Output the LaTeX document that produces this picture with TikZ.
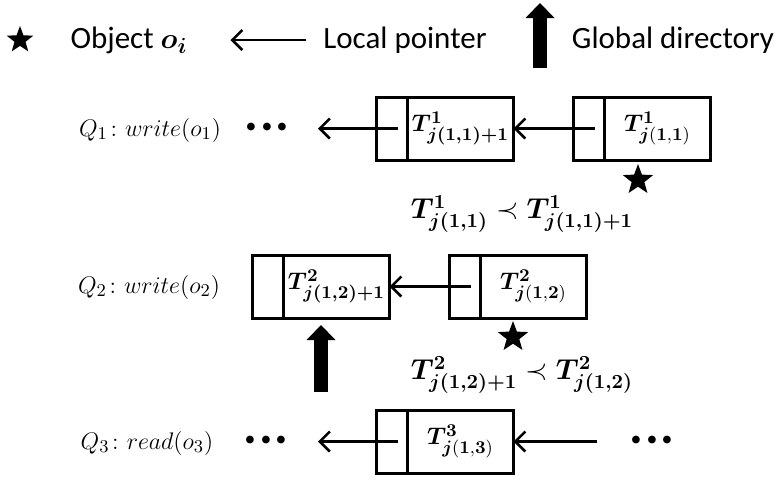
\documentclass[tikz,border=0pt]{standalone}
\usepackage{amsmath,amssymb,bm}
\usepackage{fontspec}
\setmainfont{Carlito}
\usepackage{tikz}
\usetikzlibrary{arrows.meta,positioning,shapes.geometric}

\tikzset{
  tcell/.style={draw, line width=1.5pt, minimum width=53pt, minimum height=31.5pt, inner sep=0pt, outer sep=0pt},
  pcell/.style={draw, line width=1.5pt, minimum width=15.5pt, minimum height=31.5pt, inner sep=0pt, outer sep=0pt},
  lptr/.style={-{Straight Barb[length=5pt,width=10pt]}, line width=1.3pt},
  gdir/.style={-{Triangle[length=7.5pt,width=14.5pt,line width=0pt]}, line width=7pt},
  obj/.style={star, star points=5, star point ratio=2.4, fill=black, inner sep=0pt, minimum size=16pt},
  legend/.style={font=\fontsize{15.5}{18}\selectfont},
  qlabel/.style={font=\fontsize{12.5}{15}\selectfont},
  ineq/.style={font=\fontsize{14.5}{17}\selectfont, inner sep=0pt},
  dotsep/.style={font=\fontsize{27}{27}\selectfont, inner sep=0pt},
}
\newcommand{\tnext}[2]{\bm{T^{#1}_{j(1,#2)+1}}}
\newcommand{\tcur}[2]{\bm{T}^{\bm{#1}}_{\bm{j}(\bm{1},\bm{#2})}}
\newcommand{\bigdots}{$\bm{{\cdot}{\cdot}{\cdot}}$}

\begin{document}
\begin{tikzpicture}[x=0.5pt, y=-0.5pt, every node/.style={font=\fontsize{13}{15}\selectfont}]
\useasboundingbox (0,0) rectangle (776,479);
% ---- legend
\node[obj, minimum size=14pt] (s0) at (20,40) {};
\node[legend] (ob) at (129,40) {Object $\bm{o_i}$};
\node[legend] (lp) at (405,40) {Local pointer};
\draw[lptr, shorten <=5pt, shorten >=18pt] (lp.west) -- (ob.east);
\coordinate (gbase) at (540,68);
\coordinate (gtip) at (540,3);
\draw[gdir] (gbase) -- (gtip);
\node[legend] (gd) at (673,40) {Global directory};
% ---- Q1
\node[qlabel] (q1) at (150,130) {$Q_1\colon write(o_1)$};
\node[dotsep] (d1) at (267,128) {\bigdots};
\node[tcell] (t11) at (460.5,128.5) {$\tnext{1}{1}$};
\node[pcell, left=0pt of t11] (p11) {};
\node[tcell] (t12) at (657.5,128.5) {$\tcur{1}{1}$};
\node[pcell, left=0pt of t12] (p12) {};
\coordinate (e1) at (318,128.5);
\draw[lptr] ([xshift=3pt]p12.center) -- (t11.east);
\draw[lptr] ([xshift=3pt]p11.center) -- (e1);
\node[obj] (s1) at (638,180) {};
\node[ineq] (c1) at (522,214) {$\bm{T^1_{j(1,1)}} \prec \tnext{1}{1}$};
% ---- Q2
\node[qlabel] (q2) at (149,287) {$Q_2\colon write(o_2)$};
\node[tcell] (t21) at (336.5,286.5) {$\tnext{2}{2}$};
\node[pcell, left=0pt of t21] (p21) {};
\node[tcell] (t22) at (533.5,286.5) {$\tcur{2}{2}$};
\node[pcell, left=0pt of t22] (p22) {};
\draw[lptr] ([xshift=3pt]p22.center) -- (t21.east);
\node[obj] (s2) at (513,337) {};
\node[ineq] (c2) at (522,375) {$\tnext{2}{2} \prec \bm{T^2_{j(1,2)}}$};
\coordinate (g2) at (321,392);
\draw[gdir, shorten >=3.5pt] (g2) -- (g2 |- t21.south);
% ---- Q3
\node[qlabel] (q3) at (147,443) {$Q_3\colon read(o_3)$};
\node[dotsep] (d3) at (266,441) {\bigdots};
\node[tcell] (t31) at (460.5,441.5) {$\tcur{3}{3}$};
\node[pcell, left=0pt of t31] (p31) {};
\coordinate (e3) at (318,441.5);
\coordinate (b3) at (597,441.5);
\draw[lptr] ([xshift=3pt]p31.center) -- (e3);
\draw[lptr] (b3) -- (t31.east);
\node[dotsep] (d4) at (652,441) {\bigdots};
\end{tikzpicture}
\end{document}
